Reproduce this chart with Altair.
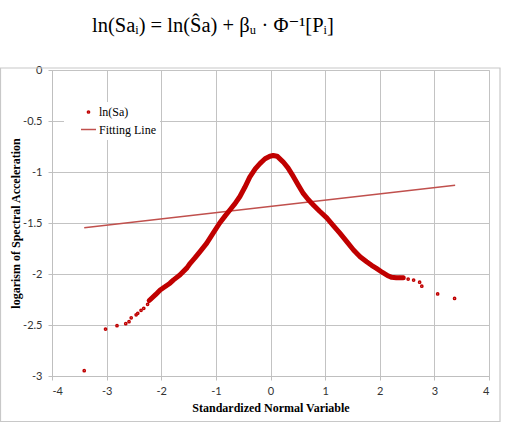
import altair as alt
import pandas as pd

# ---- data ----
left_x = [-3.41, -3.02, -2.81, -2.65, -2.59, -2.55, -2.46, -2.43, -2.37, -2.32, -2.25]
left_y = [-2.948, -2.54, -2.507, -2.487, -2.467, -2.43, -2.40, -2.385, -2.356, -2.337, -2.297]

dense_x = [-2.22, -2.19, -2.10, -2.02, -1.92, -1.84, -1.78, -1.66, -1.53, -1.47,
           -1.38, -1.29, -1.17, -1.05, -0.93, -0.83, -0.74, -0.65, -0.56, -0.47,
           -0.38, -0.28, -0.19, -0.10, -0.01, 0.05, 0.12, 0.23, 0.32, 0.42,
           0.51, 0.60, 0.69, 0.78, 0.90, 1.03, 1.15, 1.27, 1.40, 1.52,
           1.64, 1.76, 1.85, 1.94, 2.05, 2.16, 2.22, 2.30, 2.37, 2.43]
dense_y = [-2.26, -2.245, -2.20, -2.157, -2.12, -2.09, -2.06, -2.01, -1.94, -1.895,
           -1.84, -1.78, -1.70, -1.60, -1.50, -1.43, -1.37, -1.31, -1.24, -1.15,
           -1.05, -0.97, -0.915, -0.87, -0.845, -0.838, -0.845, -0.90, -0.96, -1.046,
           -1.13, -1.21, -1.27, -1.32, -1.385, -1.45, -1.525, -1.60, -1.685, -1.765,
           -1.83, -1.88, -1.915, -1.945, -1.985, -2.02, -2.033, -2.036, -2.036, -2.036]

right_x = [2.52, 2.62, 2.73, 2.77, 3.06, 3.37]
right_y = [-2.05, -2.06, -2.08, -2.12, -2.196, -2.24]

fit_x = [-3.41, 3.38]
fit_y = [-1.546, -1.13]

series_names = ["ln(Sa)", "Fitting Line"]
series_colors = ["#c00000", "#c0504d"]

x_ticks = [-4, -3, -2, -1, 0, 1, 2, 3, 4]
y_ticks = [-3, -2.5, -2, -1.5, -1, -0.5, 0]

x_title = "Standardized Normal Variable"
y_title = "logarism of Spectral Acceleration"
chart_title = "ln(Saᵢ) = ln(Ŝa) + βᵤ · Φ⁻¹[Pᵢ]"

# ---- tables ----
pts = pd.DataFrame({
    "x": left_x + dense_x + right_x,
    "y": left_y + dense_y + right_y,
    "series": series_names[0],
})
dense = pd.DataFrame({"x": dense_x, "y": dense_y})
fit = pd.DataFrame({"x": fit_x, "y": fit_y, "series": series_names[1]})

tick_font = "Lato"
title_font = "'Liberation Serif', 'Times New Roman', 'DejaVu Serif', serif"

xscale = alt.Scale(domain=[-4, 4], nice=False, zero=False)
yscale = alt.Scale(domain=[-3, 0], nice=False, zero=False)

xaxis = alt.Axis(values=x_ticks, title=x_title, labelExpr="'' + datum.value",
                 grid=True, gridColor="#c3c3c3", domainColor="#bfbfbf",
                 tickColor="#bfbfbf", tickSize=4, labelPadding=5,
                 labelFont=tick_font, labelFontSize=11, labelColor="#333333",
                 titleFont=title_font, titleFontSize=12, titleFontWeight="bold",
                 titleColor="#000000", titleY=26, titleBaseline="top")
yaxis = alt.Axis(values=y_ticks, title=y_title, labelExpr="'' + datum.value",
                 grid=True, gridColor="#c3c3c3", domainColor="#bfbfbf",
                 tickColor="#bfbfbf", tickSize=4, labelPadding=6,
                 labelFont=tick_font, labelFontSize=11, labelColor="#333333",
                 titleFont=title_font, titleFontSize=12, titleFontWeight="bold",
                 titleColor="#000000", titleX=-37, titleY=153, titleAngle=-90,
                 titleAlign="center", titleBaseline="middle")

X = alt.X("x:Q", scale=xscale, axis=xaxis)
Y = alt.Y("y:Q", scale=yscale, axis=yaxis)

frame = alt.Chart(alt.Data(values=[{"a": 1}])).mark_rect(
    fill="transparent", stroke="#c8c8c8", strokeWidth=1.2
).encode(x=alt.value(-51.5), x2=alt.value(448), y=alt.value(-2), y2=alt.value(351.5))

curve = alt.Chart(dense).mark_line(
    color=series_colors[0], strokeWidth=5, strokeCap="round", strokeJoin="round"
).encode(x=X, y=Y)

fitline = alt.Chart(fit).mark_line(strokeWidth=1.5).encode(
    x=alt.X("x:Q", scale=xscale, axis=xaxis),
    y=alt.Y("y:Q", scale=yscale, axis=yaxis),
    color=alt.value(series_colors[1]),
)

legend = alt.Legend(
    title=None, orient="none", legendX=12, legendY=32, fillColor="#ffffff",
    padding=4, symbolOffset=12, labelOffset=2, rowPadding=3,
    labelFont=title_font, labelFontSize=12, labelColor="#000000",
    symbolStrokeWidth=1.5, labelExpr="datum.label + '    '",
)

points = alt.Chart(pts).mark_point(filled=False, strokeWidth=1.5, opacity=1).encode(
    x=alt.X("x:Q", scale=xscale, axis=xaxis),
    y=alt.Y("y:Q", scale=yscale, axis=yaxis),
    color=alt.Color("series:N", scale=alt.Scale(domain=series_names, range=series_colors), legend=legend),
    shape=alt.Shape("series:N", scale=alt.Scale(domain=series_names, range=["circle", "stroke"]), legend=legend),
    size=alt.Size("series:N", scale=alt.Scale(domain=series_names, range=[5, 225]), legend=legend),
)

chart = alt.layer(frame, fitline, curve, points).properties(
    width=437, height=306,
    autosize=alt.AutoSizeParams(type="none"),
    padding={"left": 52, "top": 70, "right": 19, "bottom": 48},
    title=alt.TitleParams(text=chart_title, font=title_font, fontSize=20.5,
                          fontWeight="normal", color="#000000", anchor="start",
                          frame="group", dx=40, offset=12, baseline="alphabetic"),
).configure_view(fill="#efefef", stroke="#d0d0d0").configure(background="#ffffff")

chart.save("out.html", embed_options={"renderer": "svg", "actions": False})
